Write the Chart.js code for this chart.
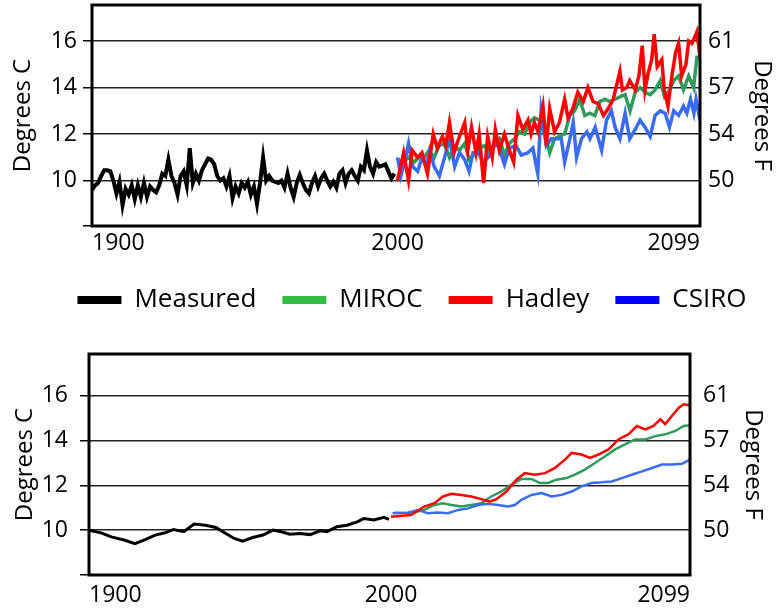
<!DOCTYPE html>
<html>
<head>
    <title>Degrees C / Degrees F</title>
    <style>
        body {
            margin: 0;
            background-color: #fff;
        }

        #wrap {
            position: relative;
            width: 784px;
            height: 613px;
        }

        #topChart {
            position: absolute;
            left: 0;
            top: 0;
        }

        #bottomChart {
            position: absolute;
            left: 0;
            top: 330px;
        }
    </style>
</head>
<body>
<div id="wrap">
    <canvas id="topChart" width="784" height="330"></canvas>
    <canvas id="bottomChart" width="784" height="283"></canvas>
</div>

<script src="https://cdn.jsdelivr.net/npm/chart.js@4.4.1/dist/chart.umd.min.js"></script>
<script>
    // axis ticks
    const yearTicks = [1900, 2000, 2099];
    const degCTicks = [10, 12, 14, 16];
    const degFLabels = ['50', '54', '57', '61'];
    const seriesNames = ['Measured', 'MIROC', 'Hadley', 'CSIRO'];

    // top panel: yearly values, measured 1900..1999
    const measuredTop = [
        9.6, 9.8, 9.9, 10.2, 10.45, 10.45, 10.4, 10.0, 9.45, 9.95,
        8.95, 9.65, 9.4, 9.8, 9.2, 9.8, 9.3, 9.9, 9.3, 9.75,
        9.6, 9.5, 9.8, 10.3, 10.2, 10.9, 10.2, 9.9, 9.4, 10.2,
        10.4, 9.8, 11.4, 9.9, 10.3, 10.0, 10.45, 10.7, 10.95, 10.9,
        10.7, 10.2, 10.0, 10.1, 9.75, 10.2, 9.25, 9.75, 9.45, 9.9,
        9.7, 9.95, 9.4, 9.75, 9.0, 9.9, 11.0, 10.0, 10.2, 10.0,
        9.95, 9.9, 10.0, 9.7, 10.3, 9.7, 9.3, 9.9, 10.25, 9.9,
        9.6, 9.45, 9.9, 10.2, 9.75, 10.1, 10.3, 10.0, 9.75, 9.95,
        9.7, 10.3, 10.45, 9.9, 10.3, 10.45, 10.2, 10.0, 10.6, 10.45,
        11.3, 10.6, 10.3, 10.8, 10.6, 10.65, 10.7, 10.4, 10.1, 10.3
    ];

    // top panel model runs: [year, degrees C]
    const mirocTop = [
        [2000, 10.9], [2002, 10.8], [2003.6, 11.0], [2005.4, 10.8], [2007, 11.0], [2008.7, 11.0],
        [2010.3, 11.3], [2012, 11.0], [2013.6, 11.5], [2015.2, 11.6], [2017, 11.0], [2018.5, 11.5],
        [2020.2, 11.3], [2022, 11.6], [2023.5, 10.9], [2025, 11.1], [2026.8, 11.4], [2028.4, 11.5],
        [2030, 11.2], [2031.7, 11.6], [2033.3, 11.8], [2035, 11.1], [2036.6, 11.6], [2038.3, 11.8],
        [2039.9, 12.1], [2041.6, 12.0], [2043.2, 12.5], [2044.8, 12.7], [2046.5, 12.6], [2048, 12.1],
        [2049.8, 11.2], [2051.4, 11.8], [2053, 11.9], [2054.7, 12.0], [2056.4, 12.8], [2058, 13.0],
        [2059.6, 13.5], [2061.3, 12.8], [2062.9, 12.9], [2064.6, 12.8], [2066.2, 13.4], [2067.9, 13.5],
        [2069.5, 13.4], [2071.2, 13.5], [2072.8, 13.6], [2074.5, 13.7], [2076.1, 13.0], [2077.8, 13.8],
        [2079.4, 14.0], [2081, 13.8], [2082.7, 13.7], [2084.3, 13.9], [2086, 14.3], [2087.4, 13.6],
        [2088.7, 13.8], [2090.4, 14.3], [2092, 14.5], [2093.6, 13.9], [2095.3, 14.5], [2096.9, 14.0],
        [2098, 15.3], [2099, 15.3]
    ];

    const hadleyTop = [
        [2000, 10.0], [2002, 11.2], [2003.6, 10.0], [2004.8, 11.3], [2006.5, 11.0], [2008, 11.2],
        [2009.8, 10.3], [2011.7, 12.0], [2013, 11.4], [2014.7, 11.9], [2015.8, 11.5], [2017, 12.5],
        [2018.5, 11.2], [2020, 11.8], [2022, 12.5], [2023, 11.3], [2024.2, 12.3], [2025.7, 11.2],
        [2026.7, 12.0], [2028.2, 9.9], [2029.5, 11.9], [2031, 11.0], [2032, 12.2], [2033.3, 11.3],
        [2035, 12.0], [2036.6, 11.3], [2038, 10.8], [2039.4, 12.8], [2041, 12.2], [2042.7, 12.6],
        [2043.7, 12.0], [2044.8, 12.5], [2046, 12.1], [2047.6, 13.2], [2048.7, 11.5], [2049.8, 13.1],
        [2051.4, 12.1], [2053, 12.5], [2054.7, 13.5], [2055.8, 12.7], [2057.4, 13.1], [2059, 13.8],
        [2060.8, 13.4], [2062.3, 14.0], [2064, 13.4], [2065.7, 13.3], [2067.4, 12.8], [2069, 13.1],
        [2070.6, 13.5], [2071.7, 14.1], [2072.8, 14.7], [2073.6, 13.9], [2075, 14.0], [2076, 14.3],
        [2077.8, 13.9], [2079, 14.5], [2080.1, 15.8], [2081, 13.9], [2082, 14.6], [2083.2, 15.2],
        [2084, 16.3], [2085, 14.9], [2086.5, 15.2], [2087.3, 13.9], [2088.5, 13.2], [2089.8, 14.5],
        [2091, 15.5], [2092, 15.9], [2093, 14.5], [2094.4, 15.0], [2095.3, 16.0], [2096.4, 15.9],
        [2098, 16.4], [2099, 15.3]
    ];

    const csiroTop = [
        [2000, 11.0], [2001.1, 10.2], [2002.5, 10.9], [2003.6, 11.6], [2005, 10.6], [2006.6, 10.4],
        [2008, 11.0], [2009.4, 10.6], [2010.5, 11.3], [2012, 10.6], [2013.7, 10.2], [2015.4, 11.0],
        [2017, 11.8], [2018.7, 10.6], [2020.3, 11.2], [2022, 10.9], [2023.4, 10.4], [2024.7, 11.2],
        [2026.4, 11.2], [2028, 10.8], [2029.7, 11.0], [2031.7, 11.5], [2033, 11.5], [2035, 10.7],
        [2036.6, 11.4], [2038.8, 11.5], [2040.5, 11.1], [2042.7, 11.2], [2044.3, 11.4], [2045.9, 10.3],
        [2047, 13.0], [2048.7, 11.5], [2050.3, 11.8], [2052, 11.8], [2053.6, 11.8], [2054.7, 10.8],
        [2056.4, 11.8], [2057.5, 12.5], [2058.6, 11.0], [2060.2, 11.8], [2062, 12.1], [2063, 11.8],
        [2064.7, 12.3], [2066.8, 11.3], [2068.4, 12.6], [2070, 13.0], [2071.2, 12.3], [2072.8, 11.8],
        [2074.5, 12.9], [2076, 11.8], [2077.8, 12.2], [2079.4, 12.6], [2081, 12.3], [2082.7, 11.9],
        [2084.3, 12.8], [2086, 13.0], [2087.6, 12.9], [2089, 12.3], [2090.4, 13.0], [2092, 12.8],
        [2093.6, 13.2], [2094.7, 12.9], [2095.9, 13.5], [2097, 12.9], [2097.7, 13.5], [2098.7, 12.8],
        [2099, 12.9]
    ];

    // bottom panel: smoothed series
    const measuredBottom = [
        [1900, 10.0], [1904, 9.88], [1907.4, 9.7], [1911.9, 9.55], [1915.2, 9.4], [1918.6, 9.58],
        [1921.9, 9.78], [1925.2, 9.88], [1928, 10.03], [1931.4, 9.93], [1934.8, 10.27], [1938.6, 10.22],
        [1942, 10.12], [1945.3, 9.85], [1948.1, 9.63], [1950.9, 9.51], [1954.2, 9.67], [1957.6, 9.78],
        [1960.9, 10.0], [1963.7, 9.93], [1966.5, 9.82], [1969.8, 9.85], [1973.2, 9.8], [1976.5, 9.97],
        [1978.8, 9.93], [1982.1, 10.15], [1985.4, 10.22], [1988.8, 10.37], [1991, 10.52], [1994.3, 10.45],
        [1997.7, 10.57], [1999.3, 10.48]
    ];

    const mirocBottom = [
        [2001, 10.78], [2006.6, 10.75], [2011, 10.9], [2014.4, 11.12], [2017.2, 11.2], [2020, 11.12],
        [2023.3, 11.05], [2026.6, 11.12], [2029.9, 11.2], [2033.2, 11.5], [2036.5, 11.72], [2039.8, 12.02],
        [2043.2, 12.28], [2046.5, 12.28], [2049.3, 12.1], [2052, 12.1], [2054.8, 12.25], [2058.1, 12.32],
        [2060.9, 12.47], [2064.2, 12.7], [2067.5, 12.99], [2070.9, 13.29], [2074.2, 13.6], [2077.5, 13.82],
        [2080.8, 14.04], [2084.2, 14.04], [2087.5, 14.19], [2090.8, 14.27], [2094.1, 14.42], [2096.9, 14.64],
        [2099, 14.67]
    ];

    const hadleyBottom = [
        [2000, 10.6], [2006.6, 10.67], [2011, 11.05], [2014.4, 11.2], [2017.2, 11.5], [2020, 11.62],
        [2023.3, 11.57], [2026.6, 11.5], [2029.9, 11.38], [2032.7, 11.27], [2034.9, 11.38], [2038.2, 11.72],
        [2041.5, 12.25], [2044.3, 12.54], [2047.6, 12.47], [2051, 12.54], [2054.3, 12.77], [2057.6, 13.14],
        [2059.8, 13.44], [2063.1, 13.37], [2065.9, 13.22], [2068.7, 13.37], [2072, 13.6], [2075.3, 14.04],
        [2078.6, 14.27], [2081.4, 14.64], [2084.2, 14.49], [2086.9, 14.64], [2089.2, 14.94], [2090.8, 14.72],
        [2093, 15.09], [2095.3, 15.46], [2096.9, 15.61], [2099, 15.57]
    ];

    const csiroBottom = [
        [2000.5, 10.75], [2005.5, 10.78], [2008.9, 10.9], [2012.2, 10.75], [2015.5, 10.78], [2018.9, 10.75],
        [2022.2, 10.9], [2025.5, 10.97], [2028.8, 11.12], [2032.1, 11.17], [2035.4, 11.12], [2038.8, 11.05],
        [2041, 11.12], [2043.2, 11.35], [2046.5, 11.57], [2049.8, 11.65], [2053.2, 11.5], [2056.5, 11.57],
        [2059.8, 11.72], [2063.1, 11.95], [2066.4, 12.1], [2069.8, 12.13], [2073.1, 12.17], [2076.4, 12.32],
        [2079.7, 12.47], [2083.1, 12.62], [2086.4, 12.77], [2089.7, 12.92], [2093, 12.92], [2096.4, 12.96],
        [2099, 13.14]
    ];

    const lineColors = ['#000000', '#2e9a5c', '#ff0000', '#3a6cf2'];
    const legendColors = ['#000000', '#33bb44', '#ff0000', '#0000ff'];
    const drawOrder = [0, 3, 1, 2];
    const fontFamily = '"Open Sans", "DejaVu Sans", sans-serif';

    function toPoints(pairs) {
        return pairs.map(p => ({x: p[0], y: p[1]}));
    }

    const frameBox = {
        id: 'frameBox',
        afterDatasetsDraw(chart) {
            const a = chart.chartArea;
            const ctx = chart.ctx;
            ctx.save();
            ctx.strokeStyle = '#000';
            ctx.lineWidth = 3;
            ctx.strokeRect(a.left, a.top, a.right - a.left, a.bottom - a.top);
            ctx.restore();
        }
    };

    function buildChart(canvasId, series, widths, cfg) {
        const tickFont = {family: fontFamily, size: 23};
        const titleFont = {family: fontFamily, size: 24};

        return new Chart(document.getElementById(canvasId), {
            type: 'line',
            data: {
                datasets: series.map((points, i) => ({
                    label: seriesNames[i],
                    data: points,
                    borderColor: lineColors[i],
                    backgroundColor: lineColors[i],
                    borderWidth: widths[i],
                    pointRadius: 0,
                    tension: 0,
                    fill: false,
                    order: drawOrder[i]
                }))
            },
            options: {
                responsive: false,
                animation: false,
                layout: {padding: cfg.padding},
                plugins: {
                    tooltip: {enabled: false},
                    legend: cfg.showLegend ? {
                        display: true,
                        position: 'bottom',
                        align: 'center',
                        labels: {
                            boxWidth: 44,
                            boxHeight: 8,
                            padding: 26,
                            color: '#000',
                            font: {family: fontFamily, size: 26},
                            generateLabels: chart => chart.data.datasets.map((ds, i) => ({
                                text: ds.label,
                                fillStyle: legendColors[i],
                                strokeStyle: legendColors[i],
                                lineWidth: 0,
                                hidden: false,
                                datasetIndex: i,
                                fontColor: '#000'
                            }))
                        }
                    } : {display: false}
                },
                scales: {
                    x: {
                        type: 'linear',
                        min: 1900,
                        max: 2099,
                        afterBuildTicks: s => { s.ticks = yearTicks.map(v => ({value: v})); },
                        afterFit: s => { s.height = cfg.xHeight; },
                        grid: {display: false, drawTicks: false},
                        border: {display: false},
                        ticks: {
                            align: 'inner',
                            autoSkip: false,
                            maxRotation: 0,
                            padding: cfg.xPad,
                            color: '#000',
                            font: tickFont,
                            callback: v => String(v)
                        }
                    },
                    y: {
                        position: 'left',
                        min: cfg.yMin,
                        max: cfg.yMax,
                        afterBuildTicks: s => { s.ticks = [cfg.yMin].concat(degCTicks).map(v => ({value: v})); },
                        afterFit: s => {
                            s.width = cfg.leftWidth;
                            s.paddingTop = 0;
                            s.paddingBottom = 0;
                        },
                        grid: {color: '#222', lineWidth: 1.5, tickLength: 9, tickColor: '#000', drawTicks: true},
                        border: {display: false},
                        ticks: {
                            autoSkip: false,
                            padding: cfg.leftPad,
                            color: '#000',
                            font: tickFont,
                            callback: v => degCTicks.includes(v) ? String(v) : ''
                        },
                        title: {
                            display: true,
                            text: 'Degrees C',
                            color: '#000',
                            font: titleFont,
                            padding: {top: cfg.leftTitlePad, bottom: 0}
                        }
                    },
                    yF: {
                        position: 'right',
                        min: cfg.yMin,
                        max: cfg.yMax,
                        afterBuildTicks: s => { s.ticks = degCTicks.map(v => ({value: v})); },
                        afterFit: s => {
                            s.width = cfg.rightWidth;
                            s.paddingTop = 0;
                            s.paddingBottom = 0;
                        },
                        grid: {display: false, drawTicks: false},
                        border: {display: false},
                        ticks: {
                            autoSkip: false,
                            padding: cfg.rightPad,
                            color: '#000',
                            font: tickFont,
                            callback: v => degFLabels[degCTicks.indexOf(v)]
                        },
                        title: {
                            display: true,
                            text: 'Degrees F',
                            color: '#000',
                            font: titleFont,
                            padding: {top: cfg.rightTitlePad, bottom: 0}
                        }
                    }
                }
            },
            plugins: [frameBox]
        });
    }

    buildChart('topChart', [
        measuredTop.map((v, i) => ({x: yearTicks[0] + i, y: v})),
        toPoints(mirocTop),
        toPoints(hadleyTop),
        toPoints(csiroTop)
    ], [4, 3.5, 3.5, 3.5], {
        padding: {top: 5, left: 40, right: 0, bottom: 7},
        showLegend: true,
        yMin: 8.05, yMax: 17.55,
        xHeight: 35, xPad: 4,
        leftWidth: 52, leftPad: 6, leftTitlePad: -31,
        rightWidth: 84, rightPad: 8, rightTitlePad: 8
    });

    buildChart('bottomChart', [
        toPoints(measuredBottom),
        toPoints(mirocBottom),
        toPoints(hadleyBottom),
        toPoints(csiroBottom)
    ], [3, 2.5, 2.5, 2.5], {
        padding: {top: 24, left: 0, right: 0, bottom: 0},
        showLegend: false,
        yMin: 8.0, yMax: 17.85,
        xHeight: 38, xPad: 7,
        leftWidth: 89, leftPad: 12, leftTitlePad: 11,
        rightWidth: 94, rightPad: 13, rightTitlePad: 17
    });
</script>
</body>
</html>
